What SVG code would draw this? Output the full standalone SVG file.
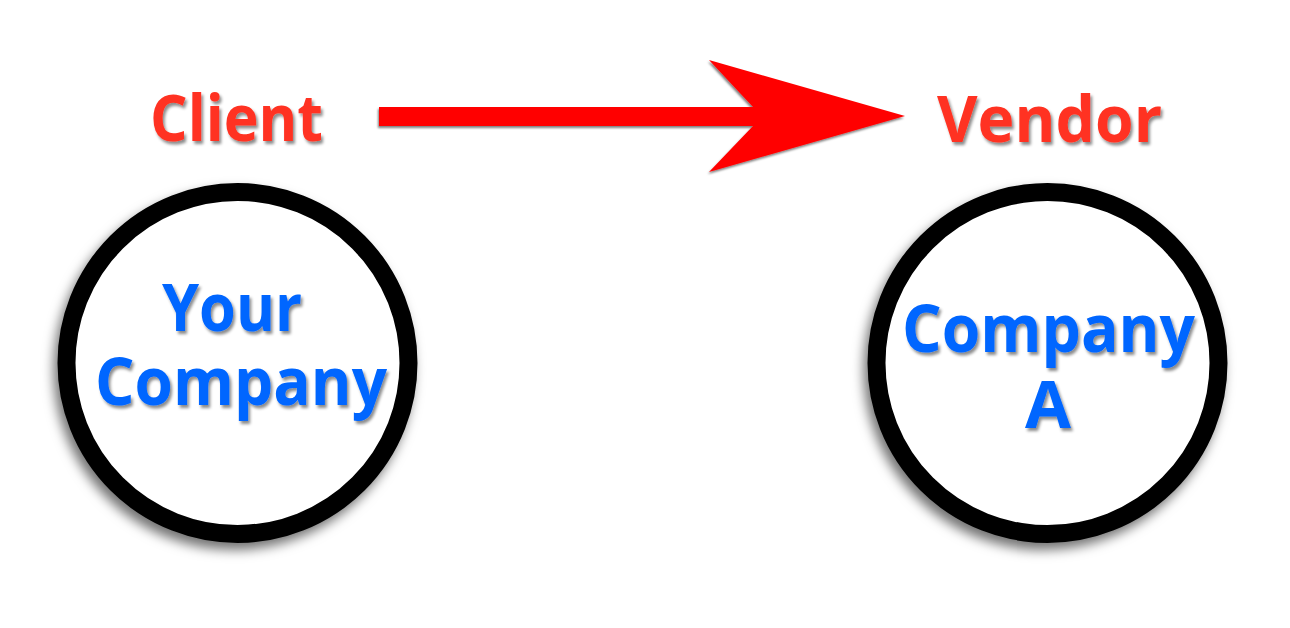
<svg xmlns="http://www.w3.org/2000/svg" width="1290" height="628" viewBox="0 0 1290 628">
  <defs>
    <filter id="tshadow" x="-10%" y="-20%" width="120%" height="150%">
      <feDropShadow dx="2" dy="3" stdDeviation="1.5" flood-color="#000" flood-opacity="0.45"/>
    </filter>
    <filter id="cshadow" x="-15%" y="-15%" width="130%" height="135%">
      <feDropShadow dx="-4" dy="7" stdDeviation="6" flood-color="#000" flood-opacity="0.55"/>
    </filter>
    <filter id="ashadow" x="-5%" y="-20%" width="110%" height="140%">
      <feDropShadow dx="-1" dy="2" stdDeviation="1.2" flood-color="#000" flood-opacity="0.5"/>
    </filter>
  </defs>
  <style>
    .label { font-family: "Open Sans", "Liberation Sans", sans-serif; font-weight: 700; font-size: 64px; fill: #FF3322; }
    .name { font-family: "Open Sans", "Liberation Sans", sans-serif; font-weight: 700; font-size: 67px; fill: #0066FF; }
    .ring { fill: #FFFFFF; stroke: #000000; stroke-width: 18; }
  </style>
  <rect width="1290" height="628" fill="#FFFFFF"/>

  <g id="connectors">
    <path d="M379,107 L753,107 L709,60 L905,116 L709,172 L753,126 L379,126 Z" fill="#FF0000" filter="url(#ashadow)"/>
  </g>

  <g id="client-label" filter="url(#tshadow)">
    <text class="label" x="150" y="141" textLength="173" lengthAdjust="spacingAndGlyphs">Client</text>
  </g>
  <g id="vendor-label" filter="url(#tshadow)">
    <text class="label" x="937" y="142" textLength="225" lengthAdjust="spacingAndGlyphs">Vendor</text>
  </g>

  <g id="your-company">
    <circle class="ring" cx="237.5" cy="363" r="171" filter="url(#cshadow)"/>
    <g filter="url(#tshadow)">
      <text class="name" x="162" y="331" textLength="140" lengthAdjust="spacingAndGlyphs">Your</text>
      <text class="name" x="95" y="405" textLength="292" lengthAdjust="spacingAndGlyphs">Company</text>
    </g>
  </g>

  <g id="company-a">
    <circle class="ring" cx="1047.5" cy="363" r="171" filter="url(#cshadow)"/>
    <g filter="url(#tshadow)">
      <text class="name" x="902" y="352" textLength="293" lengthAdjust="spacingAndGlyphs">Company</text>
      <text class="name" x="1025" y="428" textLength="46" lengthAdjust="spacingAndGlyphs">A</text>
    </g>
  </g>
</svg>
